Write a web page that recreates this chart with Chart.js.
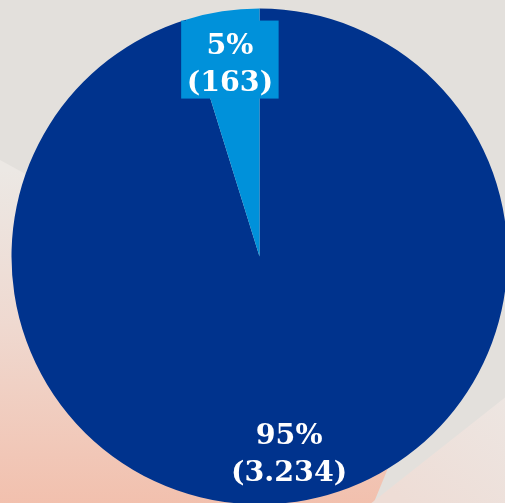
<!DOCTYPE html>
<html>
<head>
<meta charset="utf-8">
<script src="https://cdn.jsdelivr.net/npm/chart.js@4"></script>
<style>
  html, body { margin: 0; padding: 0; overflow: hidden; width: 505px; height: 503px; background: #E3E0DC; }
  #wrap { position: absolute; left: 0; top: 0; width: 512px; height: 512px; }
</style>
</head>
<body>
<div id="wrap"><canvas id="c" width="512" height="512"></canvas></div>
<script>
const categories = ["Ja", "Nein"];
const counts = [3234, 163];
const percentLabels = ["95%", "5%"];
const countLabels = ["(3.234)", "(163)"];
const colors = ["#00338D", "#0091DA"];

const bgPlugin = {
  id: 'bg',
  beforeDraw(chart) {
    const ctx = chart.ctx;
    ctx.save();
    ctx.fillStyle = '#E3E0DC';
    ctx.fillRect(0, 0, 512, 512);
    let g = ctx.createLinearGradient(0, 170, 0, 512);
    g.addColorStop(0, '#ECE8E4');
    g.addColorStop(0.45, '#EFD9D0');
    g.addColorStop(1, '#F2BFAC');
    ctx.fillStyle = g;
    ctx.beginPath();
    ctx.moveTo(0, 160);
    ctx.lineTo(420, 390);
    ctx.lineTo(370, 512);
    ctx.lineTo(0, 512);
    ctx.closePath();
    ctx.fill();
    g = ctx.createLinearGradient(505, 395, 420, 512);
    g.addColorStop(0, '#EDE6E2');
    g.addColorStop(1, '#EEDDD6');
    ctx.fillStyle = g;
    ctx.beginPath();
    ctx.moveTo(512, 392);
    ctx.lineTo(360, 512);
    ctx.lineTo(512, 512);
    ctx.closePath();
    ctx.fill();
    ctx.restore();
  }
};

const labelPlugin = {
  id: 'labels',
  afterDatasetsDraw(chart) {
    const ctx = chart.ctx;
    const meta = chart.getDatasetMeta(0);
    ctx.save();
    ctx.font = 'bold 28.5px "DejaVu Serif"';
    ctx.textAlign = 'center';
    ctx.textBaseline = 'middle';
    meta.data.forEach((arc, i) => {
      const p = arc.getProps(['x', 'y', 'startAngle', 'endAngle', 'outerRadius'], true);
      const mid = (p.startAngle + p.endAngle) / 2;
      const r = p.outerRadius * 0.795;
      const cx = p.x + Math.cos(mid) * r;
      const cy = p.y + Math.sin(mid) * r;
      const small = (p.endAngle - p.startAngle) < 0.5;
      if (small) {
        const w = Math.max(ctx.measureText(percentLabels[i]).width, ctx.measureText(countLabels[i]).width) + 11;
        ctx.fillStyle = colors[i];
        ctx.fillRect(cx - w / 2, cy - 41, w, 78);
      }
      ctx.fillStyle = '#FFFFFF';
      ctx.fillText(percentLabels[i], cx, cy - 15);
      ctx.fillText(countLabels[i], cx, cy + 22);
    });
    ctx.restore();
  }
};

new Chart(document.getElementById('c'), {
  type: 'pie',
  data: {
    labels: categories,
    datasets: [{
      data: counts,
      backgroundColor: colors,
      borderWidth: 0
    }]
  },
  options: {
    responsive: false,
    animation: false,
    layout: { padding: { left: 11.5, top: 8.5, right: 4.5, bottom: 7.5 } },
    plugins: { legend: { display: false }, tooltip: { enabled: false } }
  },
  plugins: [bgPlugin, labelPlugin]
});
</script>
</body>
</html>
